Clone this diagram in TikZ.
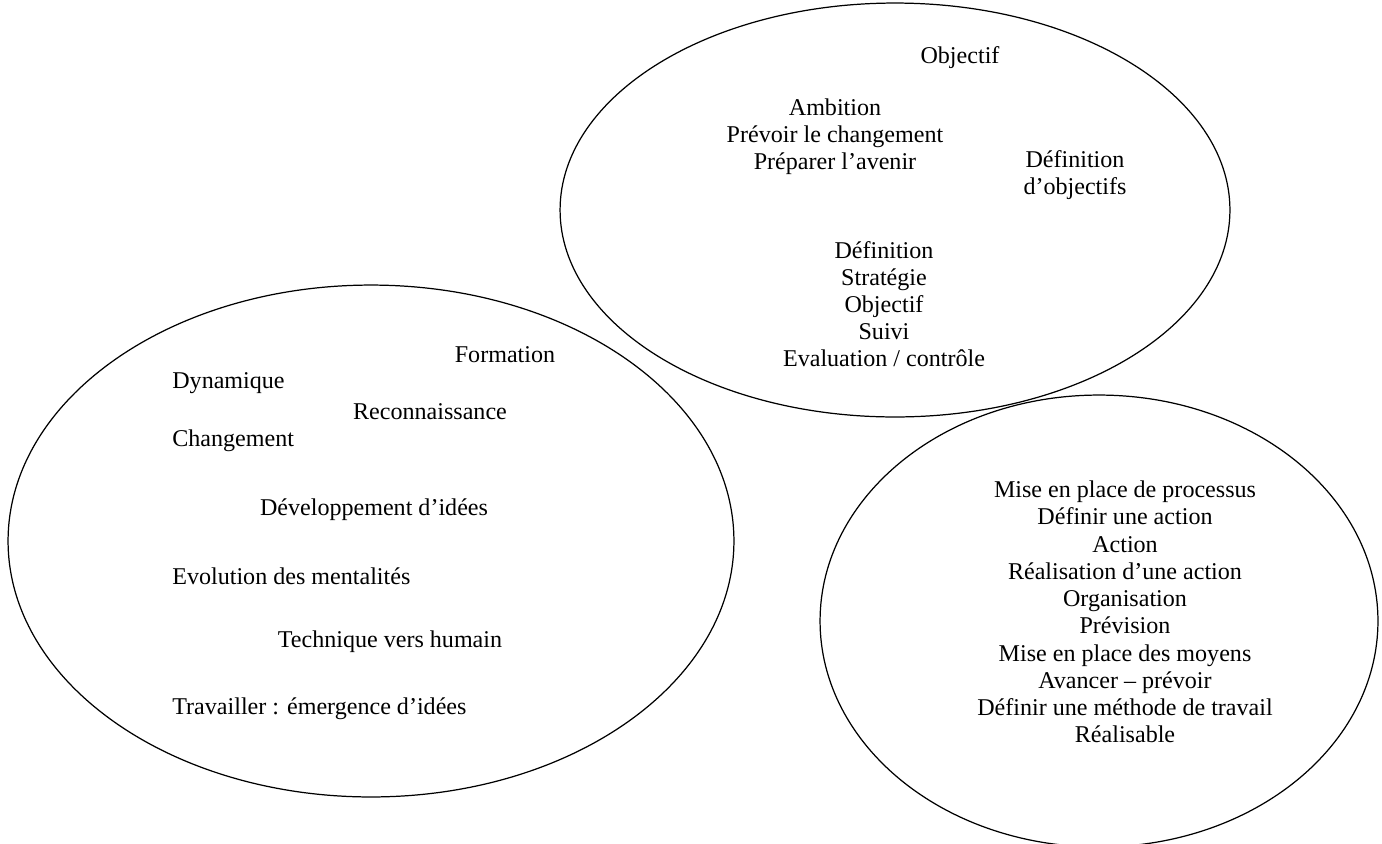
\documentclass[tikz,border=0pt]{standalone}
\usepackage{fontspec}
\setmainfont{Liberation Serif}
\usetikzlibrary{positioning, shapes.geometric}

\begin{document}
\begin{tikzpicture}[x=0.02cm, y=-0.02cm]
    % Styles
    \tikzstyle{bulle} = [draw, ellipse, line width=0.7pt, inner sep=0pt]
    \tikzstyle{mots} = [inner sep=0pt, align=center, font=\fontsize{13.7}{15.4}\selectfont]
    \tikzstyle{motg} = [mots, anchor=west, align=left]

    \useasboundingbox (0,0) rectangle (1382,843);

    % Bulles
    \node [bulle, minimum width=13.4cm, minimum height=8.28cm] (haut) at (895,210) {};
    \node [bulle, minimum width=14.52cm, minimum height=10.24cm] (gauche) at (371,541) {};
    \node [bulle, minimum width=11.16cm, minimum height=9.04cm] (droite) at (1099,621) {};

    % Bulle du haut
    \node [mots] (obj) at (960,58) {Objectif};
    \node [mots] (ambition) at (835,137) {Ambition\\Prévoir le changement\\Préparer l’avenir};
    \node [mots] (defobj) at (1075,175) {Définition\\d’objectifs};
    \node [mots] (strategie) at (884,304) {Définition\\Stratégie\\Objectif\\Suivi\\Evaluation / contrôle};

    % Bulle de gauche
    \node [mots] (formation) at (505,355) {Formation};
    \node [motg] (dynamique) at (172,383) {Dynamique};
    \node [mots] (reco) at (430,412) {Reconnaissance};
    \node [motg] (changement) at (172,441) {Changement};
    \node [mots] (idees) at (374,510) {Développement d’idées};
    \node [motg] (evolution) at (172,576) {Evolution des mentalités};
    \node [mots] (technique) at (390,642) {Technique vers humain};
    \node [motg] (travailler) at (172,709) {Travailler : émergence d’idées};

    % Bulle de droite
    \node [mots, font=\fontsize{13.7}{15.5}\selectfont] (action) at (1125,612) {Mise en place de processus\\Définir une action\\Action\\Réalisation d’une action\\Organisation\\Prévision\\Mise en place des moyens\\Avancer – prévoir\\Définir une méthode de travail\\Réalisable};
\end{tikzpicture}
\end{document}
